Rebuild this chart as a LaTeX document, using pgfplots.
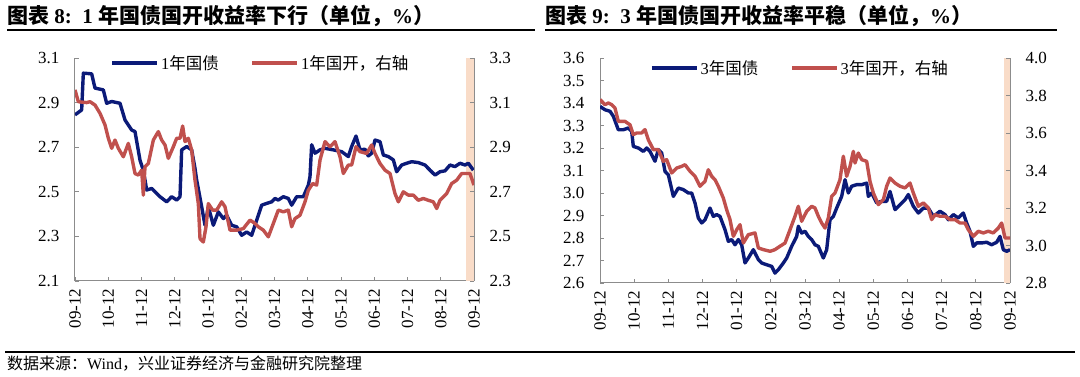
\documentclass[border=0pt]{standalone}
\usepackage{fontspec}
\setmainfont{Liberation Serif}
\newfontfamily\cjk{Noto Sans CJK SC}
\usepackage{pgfplots}
\usepackage{pgfplotstable}
\pgfplotsset{compat=1.18}
\definecolor{navy}{HTML}{0B1A78}
\definecolor{cdbred}{HTML}{C0504D}
\definecolor{band}{HTML}{F9DCC8}
\definecolor{axgray}{HTML}{8C8C8C}

\pgfplotstableread{
x y
15 2.845
35 2.867
40 3.032
65 3.029
75 2.965
100 2.957
110 2.897
125 2.905
150 2.897
165 2.822
185 2.777
195 2.770
210 2.642
220 2.597
230 2.508
245 2.515
260 2.493
270 2.478
290 2.455
305 2.478
320 2.463
330 2.478
335 2.688
350 2.703
365 2.688
375 2.605
380 2.553
395 2.433
405 2.350
415 2.433
430 2.350
445 2.410
460 2.380
470 2.395
485 2.350
500 2.343
515 2.305
530 2.320
545 2.305
555 2.350
565 2.395
575 2.440
590 2.448
605 2.455
615 2.470
625 2.463
640 2.478
655 2.470
665 2.440
680 2.478
700 2.478
715 2.530
720 2.568
725 2.711
735 2.673
750 2.688
765 2.695
790 2.688
815 2.680
835 2.658
845 2.703
858 2.750
870 2.688
885 2.691
895 2.661
905 2.673
915 2.732
930 2.725
940 2.665
955 2.658
970 2.643
980 2.590
995 2.620
1010 2.628
1025 2.635
1045 2.631
1065 2.620
1080 2.597
1095 2.575
1110 2.590
1125 2.594
1140 2.620
1155 2.613
1170 2.628
1185 2.620
1195 2.628
1210 2.597
}\cgbone

\pgfplotstableread{
x y
15 3.157
25 3.104
50 3.100
60 3.104
75 3.089
90 3.052
105 3.000
115 2.940
125 2.895
135 2.932
145 2.895
160 2.857
175 2.917
185 2.857
195 2.782
205 2.775
215 2.797
220 2.685
225 2.812
235 2.827
250 2.932
265 2.970
275 2.932
285 2.910
295 2.850
310 2.902
320 2.940
330 2.940
338 2.995
345 2.925
355 2.940
365 2.887
375 2.752
385 2.647
390 2.490
400 2.475
408 2.543
415 2.647
428 2.618
440 2.618
455 2.655
465 2.633
480 2.528
500 2.528
520 2.535
540 2.573
555 2.558
565 2.543
580 2.528
595 2.498
610 2.558
625 2.618
640 2.610
655 2.618
665 2.543
675 2.580
690 2.595
705 2.655
715 2.707
728 2.737
740 2.730
750 2.842
765 2.925
780 2.902
795 2.925
810 2.857
820 2.782
835 2.820
845 2.820
858 2.902
870 2.880
890 2.872
905 2.910
915 2.872
930 2.827
945 2.797
960 2.782
975 2.692
985 2.655
1000 2.700
1015 2.685
1030 2.685
1045 2.662
1060 2.670
1075 2.662
1090 2.655
1100 2.625
1110 2.662
1130 2.692
1145 2.737
1160 2.752
1175 2.782
1200 2.782
1212 2.730
}\cdbone

\pgfplotstableread{
x y
15 3.385
30 3.370
45 3.363
55 3.341
70 3.281
85 3.281
100 3.289
110 3.274
115 3.207
130 3.200
145 3.185
155 3.200
165 3.185
180 3.141
190 3.193
200 3.178
210 3.096
220 3.081
235 2.985
250 3.022
265 3.015
280 3.000
290 3.000
300 2.956
310 2.889
320 2.867
330 2.881
345 2.933
355 2.896
365 2.904
375 2.896
390 2.837
400 2.785
410 2.793
420 2.770
430 2.793
440 2.770
450 2.689
460 2.711
475 2.748
490 2.704
500 2.689
515 2.681
530 2.674
540 2.644
550 2.659
565 2.689
575 2.711
590 2.763
605 2.807
610 2.852
620 2.822
630 2.830
640 2.807
650 2.793
660 2.770
670 2.763
685 2.711
695 2.748
705 2.881
715 2.896
725 2.933
740 2.985
750 3.059
760 3.000
770 3.030
785 3.037
800 3.037
815 3.044
820 2.985
830 3.000
845 2.956
860 2.963
875 2.963
885 3.007
900 2.926
915 2.948
930 2.970
940 2.993
955 2.941
970 2.911
985 2.933
1000 2.933
1015 2.896
1035 2.919
1050 2.904
1060 2.881
1075 2.904
1090 2.889
1105 2.911
1115 2.867
1125 2.830
1135 2.763
1145 2.778
1160 2.778
1175 2.781
1190 2.770
1205 2.781
1215 2.807
1225 2.748
1235 2.741
1245 2.748
}\cgbthree

\pgfplotstableread{
x y
15 3.778
30 3.751
40 3.760
50 3.751
60 3.733
70 3.662
90 3.662
105 3.644
115 3.591
125 3.600
140 3.600
150 3.618
160 3.564
175 3.511
190 3.511
205 3.449
215 3.458
230 3.387
245 3.413
260 3.422
270 3.431
285 3.396
300 3.369
315 3.316
330 3.342
340 3.404
350 3.369
360 3.351
370 3.316
385 3.253
395 3.191
405 3.138
415 3.049
425 3.084
435 3.111
445 3.013
460 3.058
480 3.067
490 2.987
505 2.978
525 2.969
540 2.978
555 2.996
570 3.013
585 3.084
600 3.156
610 3.209
620 3.129
635 3.182
650 3.209
660 3.200
670 3.156
680 3.120
690 3.093
700 3.147
710 3.262
720 3.280
735 3.351
745 3.476
755 3.369
765 3.422
775 3.502
780 3.440
790 3.493
800 3.458
815 3.449
825 3.342
835 3.280
850 3.218
865 3.244
875 3.316
885 3.360
900 3.333
915 3.316
930 3.307
945 3.333
955 3.280
970 3.209
985 3.227
1000 3.200
1010 3.138
1020 3.164
1035 3.156
1050 3.156
1065 3.138
1080 3.138
1095 3.120
1110 3.120
1120 3.084
1135 3.049
1150 3.076
1165 3.067
1180 3.076
1195 3.067
1210 3.093
1220 3.120
1230 3.040
1245 3.040
}\cdbthree

\pgfplotsset{
  common/.style={
    scale only axis, anchor=south west,
    tick align=inside, major tick length=4pt,
    axis line style={-, axgray, line width=1pt},
    tick style={axgray, line width=0.8pt},
    ticklabel style={font=\fontsize{17}{17}\selectfont, text=black},
    /pgf/number format/.cd, fixed, fixed zerofill, precision=1, assume math mode=true,
  },
  leftax/.style={
    common,
    axis y line*=left, axis x line*=bottom,
    x tick label style={rotate=90, anchor=east, yshift=0pt, xshift=-4pt},
    yticklabel style={xshift=-12pt},
  },
  rightax/.style={
    common,
    axis y line*=right, axis x line=none,
    yticklabel style={xshift=12pt},
    legend style={draw=none, fill=none, legend columns=2,
      font=\fontsize{16.5}{16.5}\selectfont, inner sep=0pt,
      /tikz/every even column/.style={column sep=30pt}},
    legend image code/.code={\draw[#1] (0pt,0pt) -- (45pt,0pt);},
  },
}

\begin{document}
\begin{tikzpicture}
\path (0pt,0pt) rectangle (1080pt,377pt);
% titles
\node[anchor=base west, inner sep=0pt] at (7pt,353pt) {\fontsize{21}{22}\selectfont\bfseries{\cjk 图表}~8:~~1~{\cjk 年国债国开收益率下行（单位，}\%{\cjk ）}};
\node[anchor=base west, inner sep=0pt] at (545pt,353pt) {\fontsize{21}{22}\selectfont\bfseries{\cjk 图表}~9:~~3~{\cjk 年国债国开收益率平稳（单位，}\%{\cjk ）}};
\draw[line width=1.4pt] (7pt,347pt) -- (535pt,347pt);
\draw[line width=1.4pt] (545pt,347pt) -- (1057pt,347pt);
\draw[line width=1.4pt] (5pt,25pt) -- (1075pt,25pt);
\node[anchor=base west, inner sep=0pt] at (7pt,7pt) {\fontsize{16}{17}\selectfont{\cjk 数据来源：}Wind{\cjk ，兴业证券经济与金融研究院整理}};

% ---------- left chart
\begin{axis}[leftax, at={(75pt,96pt)}, width=399pt, height=223pt,
  xmin=15, xmax=1212, ymin=2.1, ymax=3.1,
  xtick={15,114.75,214.5,314.25,414,513.75,613.5,713.25,813,912.75,1012.5,1112.25,1212},
  xticklabels={09-12,10-12,11-12,12-12,01-12,02-12,03-12,04-12,05-12,06-12,07-12,08-12,09-12},
  ytick={2.1,2.3,2.5,2.7,2.9,3.1}]
\addplot[fill=band, draw=none] coordinates {(1188,2.1) (1212,2.1) (1212,3.1) (1188,3.1)} -- cycle;
\addplot[navy, line width=3.4pt, line join=round] table[x=x,y=y] {\cgbone};
\end{axis}
\begin{axis}[rightax, at={(75pt,96pt)}, width=399pt, height=223pt,
  xmin=15, xmax=1212, ymin=2.3, ymax=3.3,
  ytick={2.3,2.5,2.7,2.9,3.1,3.3},
  legend style={at={(0.465,0.978)}, anchor=center}]
\addlegendimage{navy, line width=3.4pt}
\addlegendentry{1{\cjk 年国债}}
\addplot[cdbred, line width=3.4pt, line join=round] table[x=x,y=y] {\cdbone};
\addlegendentry{1{\cjk 年国开，右轴}}
\end{axis}

% ---------- right chart
\begin{axis}[leftax, at={(600pt,94pt)}, width=410pt, height=225pt,
  xmin=15, xmax=1245, ymin=2.6, ymax=3.6,
  xtick={15,117.5,220,322.5,425,527.5,630,732.5,835,937.5,1040,1142.5,1245},
  xticklabels={09-12,10-12,11-12,12-12,01-12,02-12,03-12,04-12,05-12,06-12,07-12,08-12,09-12},
  ytick={2.6,2.7,2.8,2.9,3.0,3.1,3.2,3.3,3.4,3.5,3.6}]
\addplot[fill=band, draw=none] coordinates {(1227,2.6) (1245,2.6) (1245,3.6) (1227,3.6)} -- cycle;
\addplot[navy, line width=3.4pt, line join=round] table[x=x,y=y] {\cgbthree};
\end{axis}
\begin{axis}[rightax, at={(600pt,94pt)}, width=410pt, height=225pt,
  xmin=15, xmax=1245, ymin=2.8, ymax=4.0,
  ytick={2.8,3.0,3.2,3.4,3.6,3.8,4.0},
  legend style={at={(0.488,0.956)}, anchor=center}]
\addlegendimage{navy, line width=3.4pt}
\addlegendentry{3{\cjk 年国债}}
\addplot[cdbred, line width=3.4pt, line join=round] table[x=x,y=y] {\cdbthree};
\addlegendentry{3{\cjk 年国开，右轴}}
\end{axis}
\end{tikzpicture}
\end{document}
